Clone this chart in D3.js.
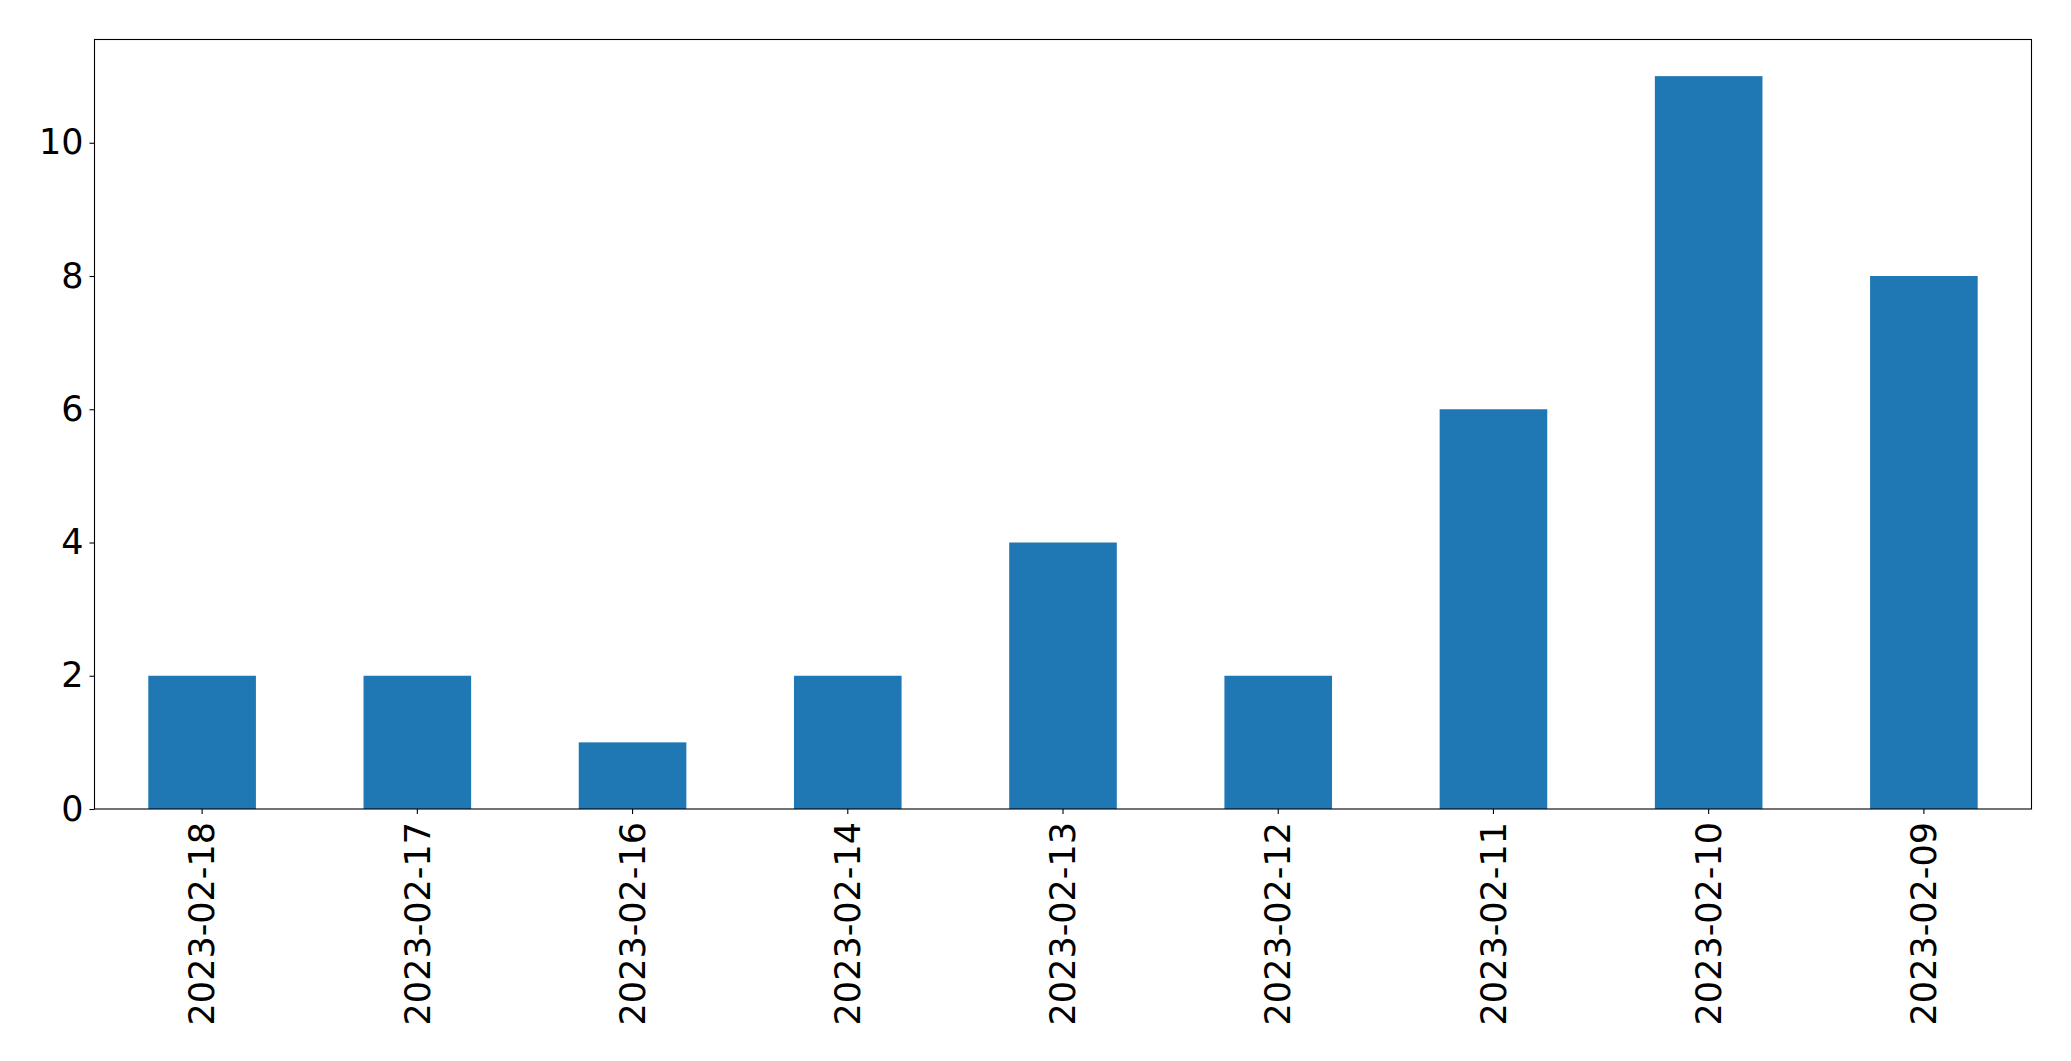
<!DOCTYPE html>
<html>
<head>
<meta charset="utf-8">
<script src="https://cdn.jsdelivr.net/npm/d3@7"></script>
<style>
  body { margin: 0; background: #fff; }
  svg { display: block; }
  .axis text { font-family: "DejaVu Sans", sans-serif; font-size: 35px; fill: #000; }
</style>
</head>
<body>
<div id="chart"></div>
<script>
const dates = ["2023-02-18", "2023-02-17", "2023-02-16", "2023-02-14", "2023-02-13",
  "2023-02-12", "2023-02-11", "2023-02-10", "2023-02-09"];
const counts = [2, 2, 1, 2, 4, 2, 6, 11, 8];
const yTicks = [0, 2, 4, 6, 8, 10];

const W = 2071, H = 1061;
const plot = { left: 94.5, right: 2031.5, top: 39.5, bottom: 809 };

const svg = d3.select("#chart").append("svg")
  .attr("width", W)
  .attr("height", H);

const x = d3.scaleBand()
  .domain(dates)
  .range([plot.left, plot.right])
  .paddingInner(0.5)
  .paddingOuter(0.25);

// matplotlib leaves a 5% margin above the tallest bar
const yMax = d3.max(counts) * 1.05;
const y = d3.scaleLinear().domain([0, yMax]).range([plot.bottom, plot.top]);

// bars
svg.append("g")
  .selectAll("rect")
  .data(dates.map((d, i) => ({ date: d, value: counts[i] })))
  .join("rect")
  .attr("x", (d) => x(d.date))
  .attr("width", x.bandwidth())
  .attr("y", (d) => y(d.value))
  .attr("height", (d) => y(0) - y(d.value))
  .attr("fill", "#1f77b4");

// y axis
const yAxis = svg.append("g")
  .attr("class", "axis")
  .attr("transform", `translate(${plot.left},0)`)
  .call(d3.axisLeft(y).tickValues(yTicks).tickSize(5).tickPadding(6).tickSizeOuter(0));
yAxis.select(".domain").remove();
yAxis.selectAll("line").attr("stroke", "#000").attr("stroke-width", 1.1);

// x axis with rotated labels
const xAxis = svg.append("g")
  .attr("class", "axis")
  .attr("transform", `translate(0,${plot.bottom})`)
  .call(d3.axisBottom(x).tickSize(5).tickSizeOuter(0));
xAxis.select(".domain").remove();
xAxis.selectAll("line").attr("stroke", "#000").attr("stroke-width", 1.1);
xAxis.selectAll("text")
  .attr("transform", "rotate(-90)")
  .attr("x", -13)
  .attr("y", 0)
  .attr("dy", "0.35em")
  .attr("text-anchor", "end");

// frame
svg.append("rect")
  .attr("x", plot.left)
  .attr("y", plot.top)
  .attr("width", plot.right - plot.left)
  .attr("height", plot.bottom - plot.top)
  .attr("fill", "none")
  .attr("stroke", "#000")
  .attr("stroke-width", 1.1);
</script>
</body>
</html>
